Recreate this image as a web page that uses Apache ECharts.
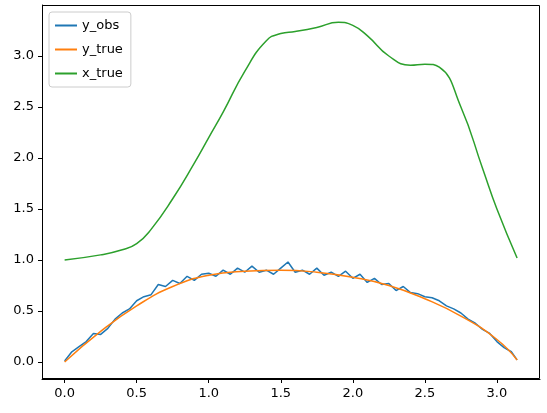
<!DOCTYPE html>
<html><head><meta charset="utf-8">
<script src="https://cdn.jsdelivr.net/npm/echarts@6/dist/echarts.min.js"></script>
<style>body{margin:0}#c{width:547px;height:413px}</style></head>
<body><div id="c"></div>
<script>
const xTicks=[0,0.5,1,1.5,2,2.5,3];
const yTicks=[0,0.5,1,1.5,2,2.5,3];
const yObsX=[0,0.05,0.1,0.15,0.2,0.25,0.3,0.35,0.4,0.45,0.5,0.55,0.6,0.65,0.7,0.75,0.8,0.85,0.9,0.95,1.0,1.05,1.1,1.15,1.2,1.25,1.3,1.35,1.4,1.45,1.5,1.55,1.6,1.65,1.7,1.75,1.8,1.85,1.9,1.95,2.0,2.05,2.1,2.15,2.2,2.25,2.3,2.35,2.4,2.45,2.5,2.55,2.6,2.65,2.7,2.75,2.8,2.85,2.9,2.95,3.0,3.05,3.1,3.14];
const yObs=[0.01,0.1,0.15,0.2,0.28,0.27,0.33,0.42,0.48,0.52,0.6,0.64,0.66,0.76,0.74,0.8,0.77,0.84,0.8,0.86,0.87,0.84,0.9,0.86,0.92,0.88,0.94,0.88,0.9,0.86,0.92,0.98,0.88,0.9,0.86,0.92,0.85,0.88,0.84,0.89,0.82,0.86,0.78,0.82,0.76,0.77,0.7,0.74,0.68,0.67,0.64,0.63,0.6,0.55,0.52,0.48,0.42,0.38,0.32,0.28,0.2,0.14,0.1,0.02];
const yTrueX=[0,0.25,0.5,0.75,1.0,1.25,1.5,1.75,2.0,2.25,2.5,2.75,3.0,3.14];
const yTrue=[0,0.3,0.55,0.74,0.85,0.89,0.9,0.88,0.83,0.75,0.62,0.45,0.22,0.02];
const xTrueX=[0,0.25,0.4,0.5,0.6,0.75,0.9,1.0,1.1,1.25,1.4,1.5,1.6,1.75,1.9,2.0,2.1,2.25,2.4,2.5,2.6,2.75,2.9,3.0,3.14];
const xTrue=[1.0,1.05,1.1,1.16,1.3,1.6,1.95,2.2,2.45,2.85,3.15,3.22,3.24,3.28,3.33,3.3,3.2,3.0,2.91,2.92,2.89,2.5,1.9,1.5,1.02];
const pair=(a,b)=>a.map((v,i)=>[v,b[i]]);
const fmt=v=>Number(v).toFixed(1);
const ch=echarts.init(document.getElementById('c'));
ch.setOption({
 animation:false,
 grid:{left:42,right:7,top:5,bottom:34},
 legend:{left:49,top:12,orient:'vertical',itemWidth:22,itemHeight:2,itemGap:11,
  icon:'rect',textStyle:{fontFamily:'DejaVu Sans',fontSize:13,color:'#000'},
  borderColor:'#ccc',borderWidth:1,borderRadius:3,padding:[7,8,7,6],
  data:['y_obs','y_true','x_true']},
 xAxis:{type:'value',min:-0.157,max:3.299,
  axisLine:{onZero:false,lineStyle:{color:'#000'}},
  splitLine:{show:false},
  axisLabel:{color:'#000',fontFamily:'DejaVu Sans',fontSize:13,formatter:fmt,customValues:xTicks},
  axisTick:{customValues:xTicks,length:4,lineStyle:{color:'#000'}}},
 yAxis:{type:'value',min:-0.167,max:3.5,
  axisLine:{show:true,onZero:false,lineStyle:{color:'#000'}},
  splitLine:{show:false},
  axisLabel:{color:'#000',fontFamily:'DejaVu Sans',fontSize:13,formatter:fmt,customValues:yTicks},
  axisTick:{show:true,length:4,lineStyle:{color:'#000'},customValues:yTicks}},
 graphic:[{type:'rect',shape:{x:42.5,y:5.5,width:497,height:373},style:{fill:'none',stroke:'#000',lineWidth:1},silent:true,z:100}],
 series:[
  {name:'y_obs',type:'line',showSymbol:false,data:pair(yObsX,yObs),lineStyle:{width:1.5,color:'#1f77b4'},itemStyle:{color:'#1f77b4'}},
  {name:'y_true',type:'line',showSymbol:false,smooth:true,data:pair(yTrueX,yTrue),lineStyle:{width:1.5,color:'#ff7f0e'},itemStyle:{color:'#ff7f0e'}},
  {name:'x_true',type:'line',showSymbol:false,smooth:true,data:pair(xTrueX,xTrue),lineStyle:{width:1.5,color:'#2ca02c'},itemStyle:{color:'#2ca02c'}}
 ]
});
</script></body></html>
